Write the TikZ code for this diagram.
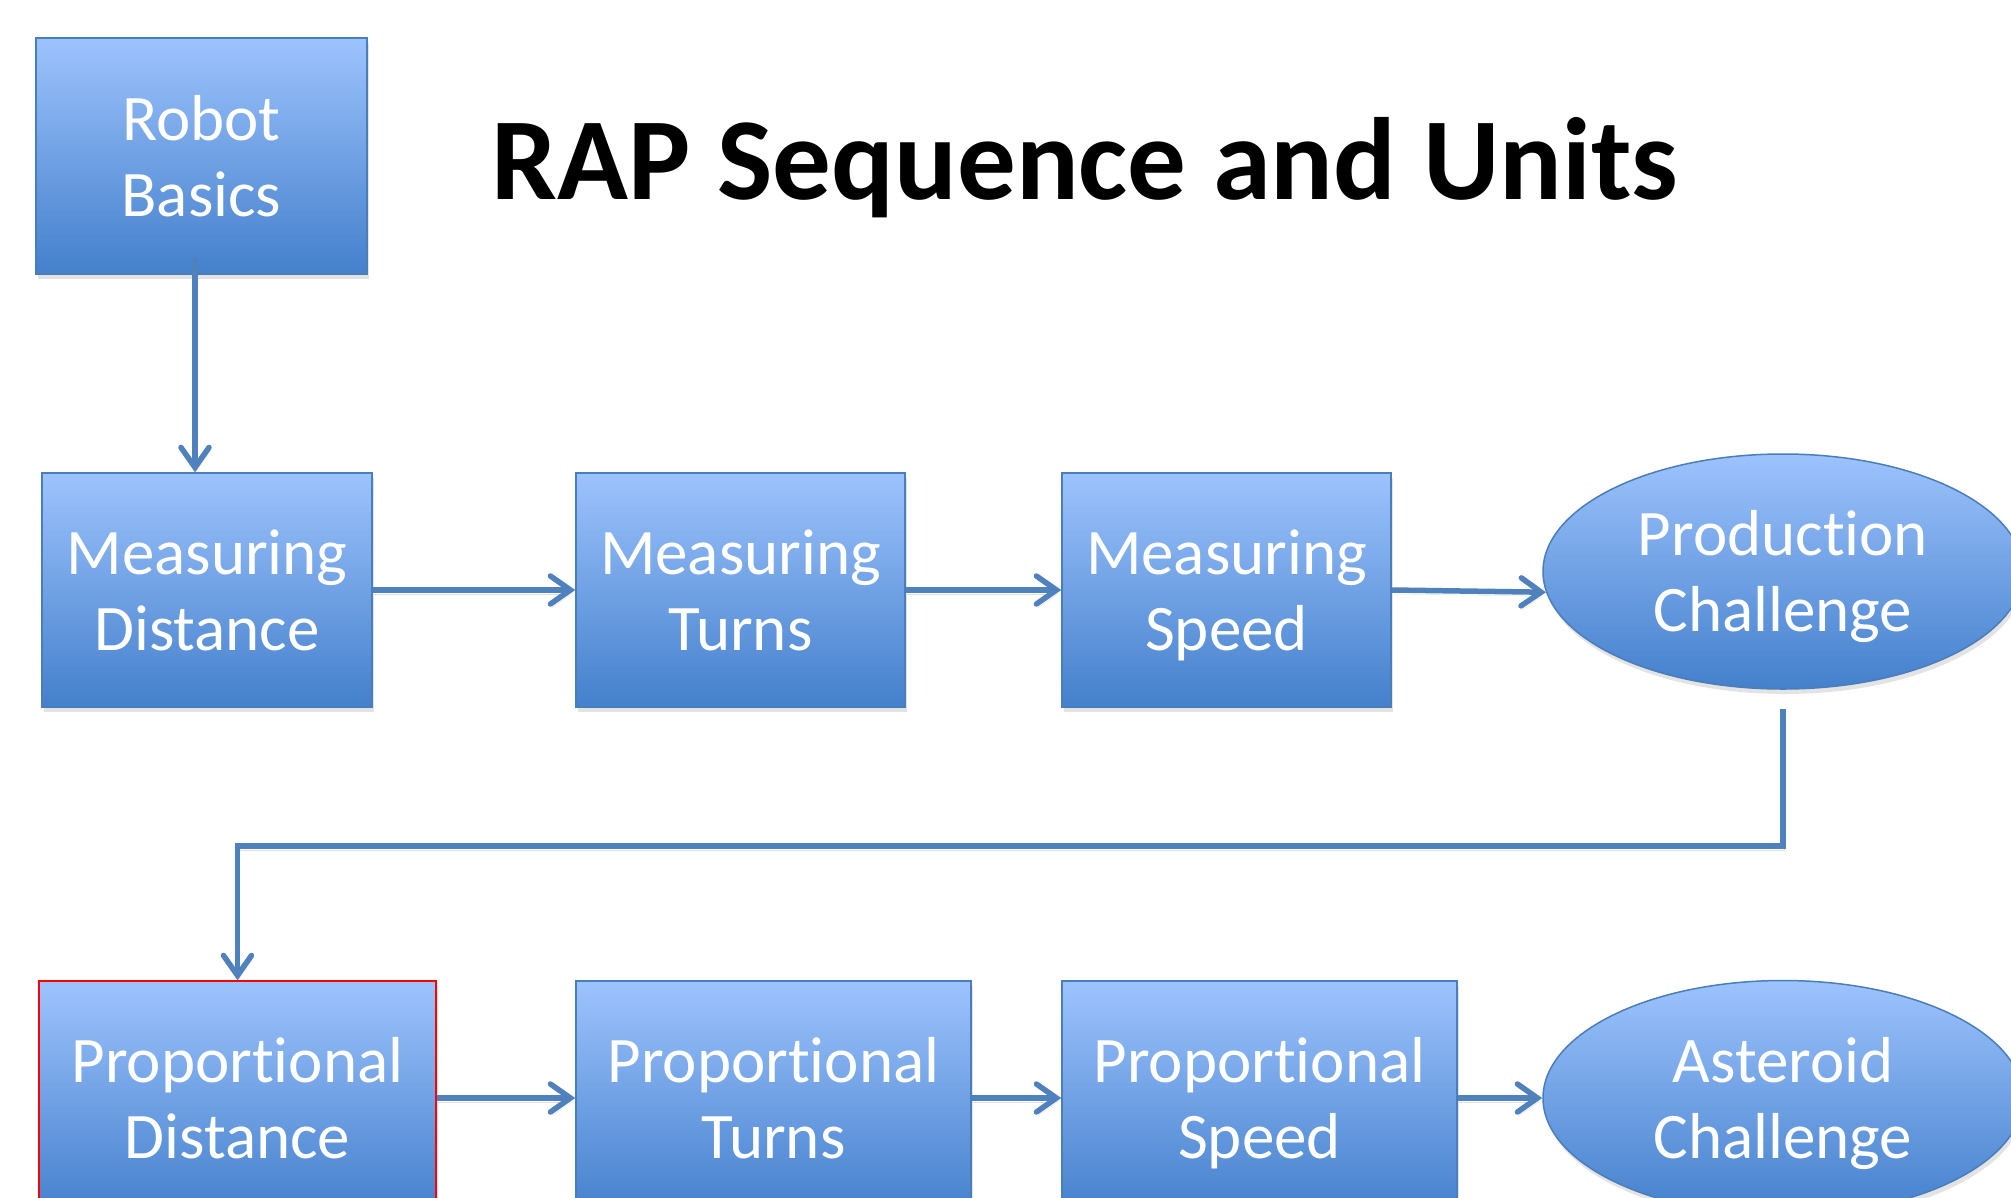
\documentclass[tikz,border=0pt]{standalone}
\usepackage{fontspec}
\setmainfont{Carlito}[Ligatures={NoCommon}, RawFeature={-liga;-calt}]
\usetikzlibrary{shapes.geometric,arrows.meta,shadows}
\definecolor{boxtop}{HTML}{9DC3FD}
\definecolor{boxbot}{HTML}{4480CC}
\definecolor{boxline}{HTML}{4A7EBB}
\definecolor{linkcol}{HTML}{4F81BD}
% two-line label with a fixed first-line height and no last-line depth,
% so every label sits at the same height whatever its letters
\newcommand{\twolines}[2]{\rule{0pt}{44pt}\smash{#1}\\\smash{#2}}
% keep "t" and "i" as separate letters
\newcommand{\nolig}{\kern0pt}
\tikzset{
  unit/.style={rectangle, draw=boxline, line width=1.5pt, top color=boxtop, bottom color=boxbot,
    text=white, align=center, font=\fontsize{65}{76}\selectfont, inner sep=0pt,
    drop shadow={shadow xshift=2pt, shadow yshift=-5pt, opacity=0.22}},
  challenge/.style={unit, ellipse, minimum width=480pt, minimum height=235pt},
  link/.style={draw=linkcol, line width=5.5pt,
    -{Straight Barb[length=20pt,width=28pt,line width=5.5pt,line cap=round]},
    preaction={draw=black, opacity=0.12, transform canvas={xshift=1pt, yshift=-4pt}}}
}
\begin{document}
\begin{tikzpicture}[x=1pt,y=-1pt]
\useasboundingbox (0,0) rectangle (2011,1197);
\fill[white] (0,0) rectangle (2011,1197);

% title
\node[anchor=base, font=\bfseries\fontsize{117}{140}\selectfont] (title) at (1085,199) {RAP Sequence and Units};

% first row
\node[unit, minimum width=331pt, minimum height=236pt] (rb) at (201.5,156) {\twolines{Robot}{Basics}};
\node[unit, minimum width=330pt, minimum height=234pt] (md) at (207,590) {\twolines{Measuring}{Distance}};
\node[unit, minimum width=329pt, minimum height=234pt] (mt) at (740.5,590) {\twolines{Measuring}{Turns}};
\node[unit, minimum width=329pt, minimum height=234pt] (ms) at (1226.5,590) {\twolines{Measuring}{Speed}};
\node[challenge] (pc) at (1783,571.5) {\twolines{Product\nolig ion}{Challenge}};

% second row
\node[unit, draw=red, minimum width=397pt, minimum height=234pt] (pd) at (237.5,1098) {\twolines{Proport\nolig ional}{Distance}};
\node[unit, minimum width=395pt, minimum height=234pt] (pt) at (773.5,1098) {\twolines{Proport\nolig ional}{Turns}};
\node[unit, minimum width=395pt, minimum height=234pt] (ps) at (1259.5,1098) {\twolines{Proport\nolig ional}{Speed}};
\node[challenge] (ac) at (1783,1098) {\twolines{Asteroid}{Challenge}};

% connectors
\coordinate (rbout) at (195,258);
\coordinate (pcout) at (1783,709);
\coordinate (bend) at (1783,846);
\draw[link] (rbout) -- (rbout |- md.north);
\draw[link] (md.east) -- (mt.west);
\draw[link] (mt.east) -- (ms.west);
\draw[link] (ms.east) -- (pc.185);
\draw[link] (pcout) -- (bend) -| (pd.north);
\draw[link] (pd.east) -- (pt.west);
\draw[link] (pt.east) -- (ps.west);
\draw[link] (ps.east) -- (ac.west);
\end{tikzpicture}
\end{document}
